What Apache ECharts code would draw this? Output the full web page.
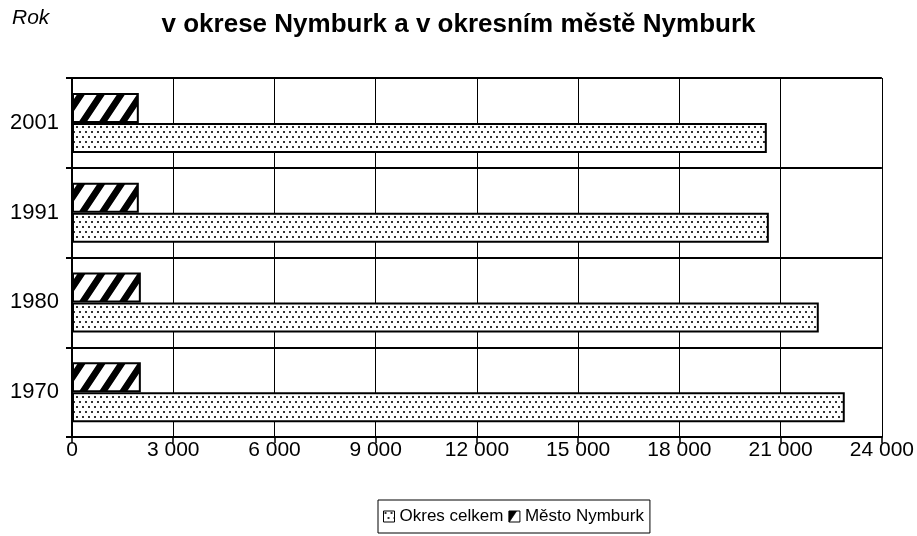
<!DOCTYPE html>
<html>
<head>
<meta charset="utf-8">
<script src="https://cdn.jsdelivr.net/npm/echarts@6/dist/echarts.min.js"></script>
<style>
  html, body { margin: 0; padding: 0; background: #fff; }
  #content { width: 917px; height: 536px; }
</style>
</head>
<body>
<div id="content"></div>
<script>
// data
var years = ['1970', '1980', '1991', '2001'];
var okresCelkem = [22900, 22130, 20650, 20590];
var mestoNymburk = [2040, 2040, 1980, 1980];

// tecky
function dotPattern() {
    var c = document.createElement('canvas');
    c.width = 6; c.height = 10;
    var ctx = c.getContext('2d');
    ctx.fillStyle = '#fff';
    ctx.fillRect(0, 0, 6, 10);
    ctx.fillStyle = '#333';
    ctx.fillRect(1, 1, 2, 2);
    ctx.fillRect(4, 6, 2, 2);
    return c;
}

// sikme srafovani, pixel po pixelu aby navazovalo
function hatchPattern() {
    var w = 20, h = 30, k = 2 / 3, stripe = 8, ss = 4;
    var c = document.createElement('canvas');
    c.width = w; c.height = h;
    var ctx = c.getContext('2d');
    var img = ctx.createImageData(w, h);
    for (var y = 0; y < h; y++) {
        for (var x = 0; x < w; x++) {
            var hit = 0;
            for (var sy = 0; sy < ss; sy++) {
                for (var sx = 0; sx < ss; sx++) {
                    var px = x + (sx + 0.5) / ss, py = y + (sy + 0.5) / ss;
                    var t = ((px + k * py) % w + w) % w;
                    if (t < stripe) hit++;
                }
            }
            var v = Math.round(255 * (1 - hit / (ss * ss)));
            var i = (y * w + x) * 4;
            img.data[i] = v; img.data[i + 1] = v; img.data[i + 2] = v; img.data[i + 3] = 255;
        }
    }
    ctx.putImageData(img, 0, 0);
    return c;
}

function fmt(v) {
    return String(v).replace(/\B(?=(\d{3})+(?!\d))/g, ' ');
}

var font = 'Liberation Sans, Arial, sans-serif';

var option = {
    backgroundColor: '#fff',
    animation: false,
    textStyle: { fontFamily: font, color: '#000' },
    title: [{
        text: 'v okrese Nymburk a v okresním městě Nymburk',
        left: 'center',
        top: 7,
        textStyle: { fontSize: 26, fontWeight: 'bold', color: '#000', fontFamily: font }
    }, {
        text: 'Rok',
        left: 7,
        top: 3,
        textStyle: { fontSize: 21, fontStyle: 'italic', fontWeight: 'normal', color: '#000', fontFamily: font }
    }],
    legend: {
        left: 378,
        top: 500,
        orient: 'horizontal',
        icon: 'rect',
        itemWidth: 11,
        itemHeight: 11,
        itemGap: 5,
        padding: [8, 6, 8, 5],
        borderColor: '#000',
        borderWidth: 1,
        itemStyle: { borderColor: '#000', borderWidth: 1 },
        textStyle: { fontSize: 17, color: '#000', fontFamily: font },
        data: ['Okres celkem', 'Město Nymburk']
    },
    grid: {
        left: 72,
        right: 35,
        top: 78,
        bottom: 99,
        containLabel: false
    },
    xAxis: {
        type: 'value',
        min: 0,
        max: 24000,
        interval: 3000,
        axisLine: { show: true, lineStyle: { color: '#000', width: 2 } },
        axisTick: { show: true, length: 6, lineStyle: { color: '#000', width: 1.5 } },
        splitLine: { show: true, lineStyle: { color: '#000', width: 1 } },
        axisLabel: {
            fontSize: 21, color: '#000', margin: 3, fontFamily: font,
            formatter: function (v) { return fmt(v); }
        }
    },
    yAxis: {
        type: 'category',
        data: years,
        axisLine: { show: true, lineStyle: { color: '#000', width: 2 } },
        axisTick: { show: true, length: 6, lineStyle: { color: '#000', width: 2 } },
        splitLine: { show: true, lineStyle: { color: '#000', width: 2 } },
        axisLabel: { fontSize: 22, color: '#000', margin: 13, fontFamily: font }
    },
    series: [{
        // prvni serie se kresli nahore
        name: 'Město Nymburk',
        type: 'bar',
        barWidth: 30,
        barGap: '0%',
        data: mestoNymburk,
        itemStyle: {
            color: { image: hatchPattern(), repeat: 'repeat' },
            borderColor: '#000',
            borderWidth: 2
        }
    }, {
        name: 'Okres celkem',
        type: 'bar',
        barWidth: 30,
        barGap: '0%',
        data: okresCelkem,
        itemStyle: {
            color: { image: dotPattern(), repeat: 'repeat' },
            borderColor: '#000',
            borderWidth: 2
        }
    }]
};

var myChart = echarts.init(document.getElementById('content'));
myChart.setOption(option);
</script>
</body>
</html>
